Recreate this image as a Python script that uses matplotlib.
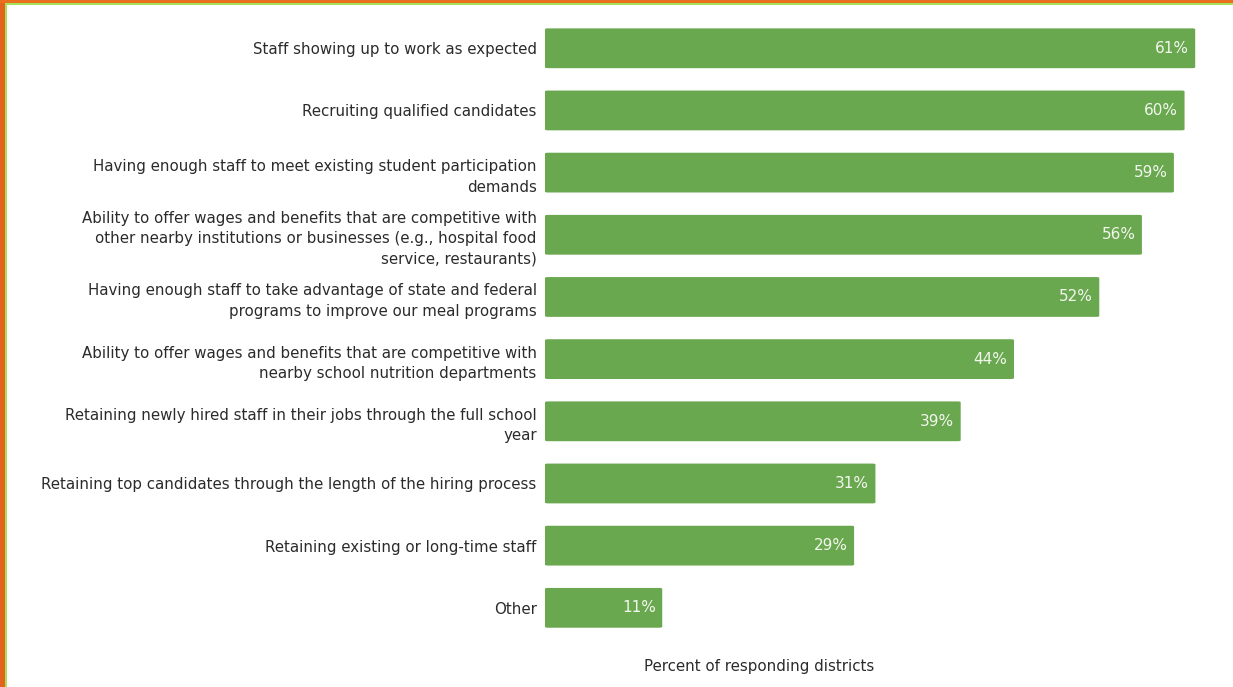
import matplotlib.pyplot as plt
from matplotlib.patches import FancyBboxPatch, Rectangle

labels = [
    "Staff showing up to work as expected",
    "Recruiting qualified candidates",
    "Having enough staff to meet existing student participation\ndemands",
    "Ability to offer wages and benefits that are competitive with\nother nearby institutions or businesses (e.g., hospital food\nservice, restaurants)",
    "Having enough staff to take advantage of state and federal\nprograms to improve our meal programs",
    "Ability to offer wages and benefits that are competitive with\nnearby school nutrition departments",
    "Retaining newly hired staff in their jobs through the full school\nyear",
    "Retaining top candidates through the length of the hiring process",
    "Retaining existing or long-time staff",
    "Other",
]
values = [61, 60, 59, 56, 52, 44, 39, 31, 29, 11]

bar_color = "#6aa84f"
text_color = "#2b2b2b"

fig = plt.figure(figsize=(12.33, 6.87), dpi=100)
ax = fig.add_axes([0.442, 0.070, 0.536, 0.905])

bar_h = 0.64
for i, (lab, v) in enumerate(zip(labels, values)):
    box = FancyBboxPatch((0, i - bar_h / 2), v, bar_h,
                         boxstyle="round,pad=0,rounding_size=0.25",
                         mutation_aspect=0.06,
                         facecolor=bar_color, edgecolor="none")
    ax.add_patch(box)
    ax.text(v - 0.6, i, f"{v}%", ha="right", va="center",
            color="#f2f7ee", fontsize=11)

ax.set_xlim(0, 62)
ax.set_ylim(len(values) - 0.5, -0.5)
ax.set_yticks(range(len(labels)))
ax.set_yticklabels(labels, fontsize=10.8, color=text_color, linespacing=1.45)
ax.tick_params(axis="y", length=0, pad=6)
ax.set_xticks([])
for s in ax.spines.values():
    s.set_visible(False)

fig.text(759 / 1233, 1 - 667 / 687, "Percent of responding districts",
         ha="center", va="center", fontsize=10.8, color=text_color)

# frame strips on the left and top edges
W, H = 1233, 687
fig.patches.append(Rectangle((0, 0), 5 / W, 1, transform=fig.transFigure,
                             facecolor="#e2641f", edgecolor="none"))
fig.patches.append(Rectangle((0, 1 - 3 / H), 1, 3 / H, transform=fig.transFigure,
                             facecolor="#e8701f", edgecolor="none"))
fig.patches.append(Rectangle((5 / W, 0), 2 / W, 1 - 3 / H, transform=fig.transFigure,
                             facecolor="#a8e05a", edgecolor="none"))
fig.patches.append(Rectangle((5 / W, 1 - 5 / H), 1, 2 / H, transform=fig.transFigure,
                             facecolor="#a8e05a", edgecolor="none"))

fig.savefig("out.png", dpi=100, facecolor="white")
